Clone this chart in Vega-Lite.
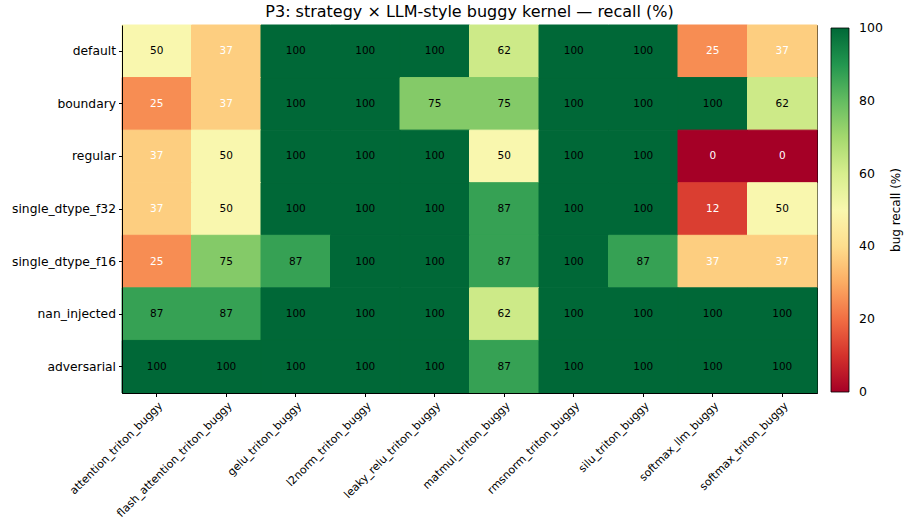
{
  "$schema": "https://vega.github.io/schema/vega-lite/v6.json",
  "autosize": "none",
  "width": 695,
  "height": 368,
  "padding": {"left": 122, "top": 25, "right": 87, "bottom": 127},
  "background": "white",
  "config": {
    "font": "DejaVu Sans",
    "view": {"stroke": "black", "strokeWidth": 1},
    "axis": {"labelFont": "DejaVu Sans", "labelColor": "black", "domainColor": "black", "tickColor": "black", "tickSize": 3.5, "labelPadding": 3, "domain": true, "grid": false}
  },
  "title": {"text": "P3: strategy × LLM-style buggy kernel — recall (%)", "fontSize": 16, "fontWeight": "normal", "font": "DejaVu Sans", "offset": 5, "color": "black"},
  "data": {"values": [
    {"strategy": "default", "kernel": "attention_triton_buggy", "recall": 50},
    {"strategy": "default", "kernel": "flash_attention_triton_buggy", "recall": 37},
    {"strategy": "default", "kernel": "gelu_triton_buggy", "recall": 100},
    {"strategy": "default", "kernel": "l2norm_triton_buggy", "recall": 100},
    {"strategy": "default", "kernel": "leaky_relu_triton_buggy", "recall": 100},
    {"strategy": "default", "kernel": "matmul_triton_buggy", "recall": 62},
    {"strategy": "default", "kernel": "rmsnorm_triton_buggy", "recall": 100},
    {"strategy": "default", "kernel": "silu_triton_buggy", "recall": 100},
    {"strategy": "default", "kernel": "softmax_llm_buggy", "recall": 25},
    {"strategy": "default", "kernel": "softmax_triton_buggy", "recall": 37},
    {"strategy": "boundary", "kernel": "attention_triton_buggy", "recall": 25},
    {"strategy": "boundary", "kernel": "flash_attention_triton_buggy", "recall": 37},
    {"strategy": "boundary", "kernel": "gelu_triton_buggy", "recall": 100},
    {"strategy": "boundary", "kernel": "l2norm_triton_buggy", "recall": 100},
    {"strategy": "boundary", "kernel": "leaky_relu_triton_buggy", "recall": 75},
    {"strategy": "boundary", "kernel": "matmul_triton_buggy", "recall": 75},
    {"strategy": "boundary", "kernel": "rmsnorm_triton_buggy", "recall": 100},
    {"strategy": "boundary", "kernel": "silu_triton_buggy", "recall": 100},
    {"strategy": "boundary", "kernel": "softmax_llm_buggy", "recall": 100},
    {"strategy": "boundary", "kernel": "softmax_triton_buggy", "recall": 62},
    {"strategy": "regular", "kernel": "attention_triton_buggy", "recall": 37},
    {"strategy": "regular", "kernel": "flash_attention_triton_buggy", "recall": 50},
    {"strategy": "regular", "kernel": "gelu_triton_buggy", "recall": 100},
    {"strategy": "regular", "kernel": "l2norm_triton_buggy", "recall": 100},
    {"strategy": "regular", "kernel": "leaky_relu_triton_buggy", "recall": 100},
    {"strategy": "regular", "kernel": "matmul_triton_buggy", "recall": 50},
    {"strategy": "regular", "kernel": "rmsnorm_triton_buggy", "recall": 100},
    {"strategy": "regular", "kernel": "silu_triton_buggy", "recall": 100},
    {"strategy": "regular", "kernel": "softmax_llm_buggy", "recall": 0},
    {"strategy": "regular", "kernel": "softmax_triton_buggy", "recall": 0},
    {"strategy": "single_dtype_f32", "kernel": "attention_triton_buggy", "recall": 37},
    {"strategy": "single_dtype_f32", "kernel": "flash_attention_triton_buggy", "recall": 50},
    {"strategy": "single_dtype_f32", "kernel": "gelu_triton_buggy", "recall": 100},
    {"strategy": "single_dtype_f32", "kernel": "l2norm_triton_buggy", "recall": 100},
    {"strategy": "single_dtype_f32", "kernel": "leaky_relu_triton_buggy", "recall": 100},
    {"strategy": "single_dtype_f32", "kernel": "matmul_triton_buggy", "recall": 87},
    {"strategy": "single_dtype_f32", "kernel": "rmsnorm_triton_buggy", "recall": 100},
    {"strategy": "single_dtype_f32", "kernel": "silu_triton_buggy", "recall": 100},
    {"strategy": "single_dtype_f32", "kernel": "softmax_llm_buggy", "recall": 12},
    {"strategy": "single_dtype_f32", "kernel": "softmax_triton_buggy", "recall": 50},
    {"strategy": "single_dtype_f16", "kernel": "attention_triton_buggy", "recall": 25},
    {"strategy": "single_dtype_f16", "kernel": "flash_attention_triton_buggy", "recall": 75},
    {"strategy": "single_dtype_f16", "kernel": "gelu_triton_buggy", "recall": 87},
    {"strategy": "single_dtype_f16", "kernel": "l2norm_triton_buggy", "recall": 100},
    {"strategy": "single_dtype_f16", "kernel": "leaky_relu_triton_buggy", "recall": 100},
    {"strategy": "single_dtype_f16", "kernel": "matmul_triton_buggy", "recall": 87},
    {"strategy": "single_dtype_f16", "kernel": "rmsnorm_triton_buggy", "recall": 100},
    {"strategy": "single_dtype_f16", "kernel": "silu_triton_buggy", "recall": 87},
    {"strategy": "single_dtype_f16", "kernel": "softmax_llm_buggy", "recall": 37},
    {"strategy": "single_dtype_f16", "kernel": "softmax_triton_buggy", "recall": 37},
    {"strategy": "nan_injected", "kernel": "attention_triton_buggy", "recall": 87},
    {"strategy": "nan_injected", "kernel": "flash_attention_triton_buggy", "recall": 87},
    {"strategy": "nan_injected", "kernel": "gelu_triton_buggy", "recall": 100},
    {"strategy": "nan_injected", "kernel": "l2norm_triton_buggy", "recall": 100},
    {"strategy": "nan_injected", "kernel": "leaky_relu_triton_buggy", "recall": 100},
    {"strategy": "nan_injected", "kernel": "matmul_triton_buggy", "recall": 62},
    {"strategy": "nan_injected", "kernel": "rmsnorm_triton_buggy", "recall": 100},
    {"strategy": "nan_injected", "kernel": "silu_triton_buggy", "recall": 100},
    {"strategy": "nan_injected", "kernel": "softmax_llm_buggy", "recall": 100},
    {"strategy": "nan_injected", "kernel": "softmax_triton_buggy", "recall": 100},
    {"strategy": "adversarial", "kernel": "attention_triton_buggy", "recall": 100},
    {"strategy": "adversarial", "kernel": "flash_attention_triton_buggy", "recall": 100},
    {"strategy": "adversarial", "kernel": "gelu_triton_buggy", "recall": 100},
    {"strategy": "adversarial", "kernel": "l2norm_triton_buggy", "recall": 100},
    {"strategy": "adversarial", "kernel": "leaky_relu_triton_buggy", "recall": 100},
    {"strategy": "adversarial", "kernel": "matmul_triton_buggy", "recall": 87},
    {"strategy": "adversarial", "kernel": "rmsnorm_triton_buggy", "recall": 100},
    {"strategy": "adversarial", "kernel": "silu_triton_buggy", "recall": 100},
    {"strategy": "adversarial", "kernel": "softmax_llm_buggy", "recall": 100},
    {"strategy": "adversarial", "kernel": "softmax_triton_buggy", "recall": 100}
  ]},
  "encoding": {
    "x": {"field": "kernel", "type": "nominal", "sort": null, "title": null,
      "scale": {"paddingInner": 0, "paddingOuter": 0},
      "axis": {"labelAngle": -45, "labelAlign": "right", "labelBaseline": "top", "labelFontSize": 11}},
    "y": {"field": "strategy", "type": "nominal", "sort": null, "title": null,
      "scale": {"paddingInner": 0, "paddingOuter": 0},
      "axis": {"labelFontSize": 12.3}}
  },
  "layer": [
    {
      "mark": {"type": "rect", "strokeWidth": 1},
      "encoding": {
        "color": {"field": "recall", "type": "quantitative", "title": "bug recall (%)",
          "scale": {"scheme": "redyellowgreen", "domain": [0, 100]},
          "legend": {"orient": "none", "legendX": 709, "legendY": 3, "direction": "vertical",
            "gradientLength": 364, "gradientThickness": 18, "values": [0, 20, 40, 60, 80, 100],
            "gradientStrokeColor": "black", "gradientStrokeWidth": 0.8, "labelFontSize": 12.5, "labelColor": "black", "labelOffset": 10,
            "labelBaseline": "middle", "labelOverlap": false,
            "titleOrient": "right", "titleFontSize": 12, "titleFontWeight": "normal", "titleColor": "black", "titleAnchor": "middle", "titlePadding": 20,
            "encode": {"title": {"update": {"angle": {"value": 270}}}, "labels": {"update": {"baseline": {"value": "middle"}}}}}},
        "stroke": {"field": "recall", "type": "quantitative", "scale": {"scheme": "redyellowgreen", "domain": [0, 100]}, "legend": null}
      }
    },
    {
      "mark": {"type": "text", "fontSize": 10.5, "font": "DejaVu Sans"},
      "encoding": {
        "text": {"field": "recall", "type": "quantitative", "format": "d"},
        "color": {"condition": {"test": "datum.recall < 40", "value": "white"}, "value": "black"}
      }
    }
  ],
  "resolve": {"scale": {"color": "independent"}}
}
